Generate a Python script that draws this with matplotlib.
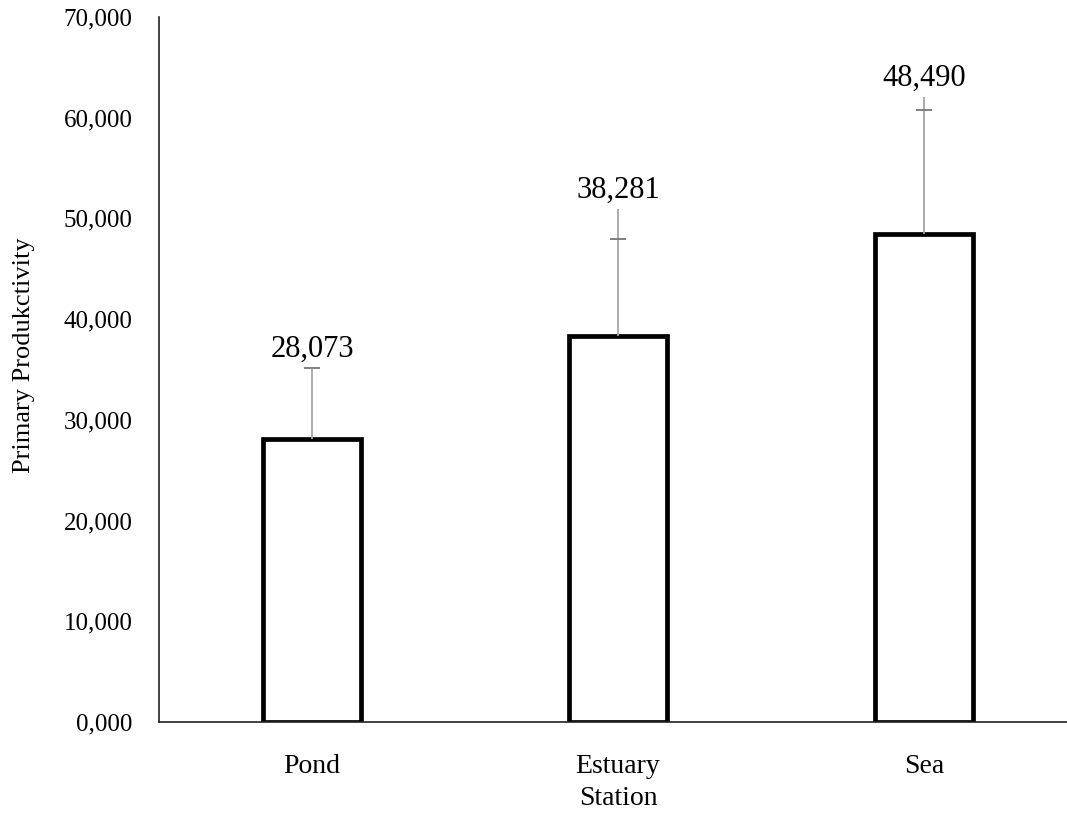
import matplotlib
matplotlib.use("Agg")
import matplotlib.pyplot as plt
from matplotlib.ticker import FuncFormatter

categories = ["Pond", "Estuary", "Sea"]
values = [28.073, 38.281, 48.490]
err_line_top = [35.15, 50.9, 62.1]
err_cap = [35.15, 48.0, 60.8]
value_labels = ["28,073", "38,281", "48,490"]

plt.rcParams['font.family'] = ['Liberation Serif', 'DejaVu Serif']

fig = plt.figure(figsize=(10.67, 8.15), dpi=100)
ax = fig.add_axes([159/1067, 93/815, 918/1067, 705/815])

x = list(range(len(categories)))
ax.bar(x, values, width=0.32, facecolor='white', edgecolor='black', linewidth=3.4, zorder=2)

line_err = [[0]*3, [t - v for t, v in zip(err_line_top, values)]]
ax.errorbar(x, values, yerr=line_err, fmt='none', ecolor='#a6a6a6', elinewidth=1.3, capsize=0, zorder=3)
ax.plot(x, err_cap, linestyle='none', marker='_', markersize=12, markeredgewidth=1.4,
        color='#7f7f7f', zorder=4)

for xi, top, lab in zip(x, err_line_top, value_labels):
    ax.annotate(lab, (xi, top), xytext=(0, 3), textcoords='offset points',
                ha='center', va='bottom', fontsize=22)

ax.set_xlim(-0.5, 2.5)
ax.set_ylim(0, 70)
ax.set_yticks(range(0, 71, 10))
ax.yaxis.set_major_formatter(FuncFormatter(lambda v, p: f"{int(v)},000"))
ax.set_xticks(x)
ax.set_xticklabels(categories)
ax.tick_params(axis='both', length=0)
ax.tick_params(axis='y', pad=19, labelsize=18)
ax.tick_params(axis='x', pad=23, labelsize=20)
for s in ['top', 'right']:
    ax.spines[s].set_visible(False)
ax.spines['left'].set_color('#222222')
ax.spines['bottom'].set_color('#222222')
ax.spines['left'].set_linewidth(1.2)
ax.spines['bottom'].set_linewidth(1.2)
ax.set_xlabel("Station", fontsize=20, labelpad=5)
ax.set_ylabel("Primary Produkctivity", fontsize=19)
ax.yaxis.set_label_coords(-0.135, 0.52)

fig.savefig("out.png", dpi=100)
